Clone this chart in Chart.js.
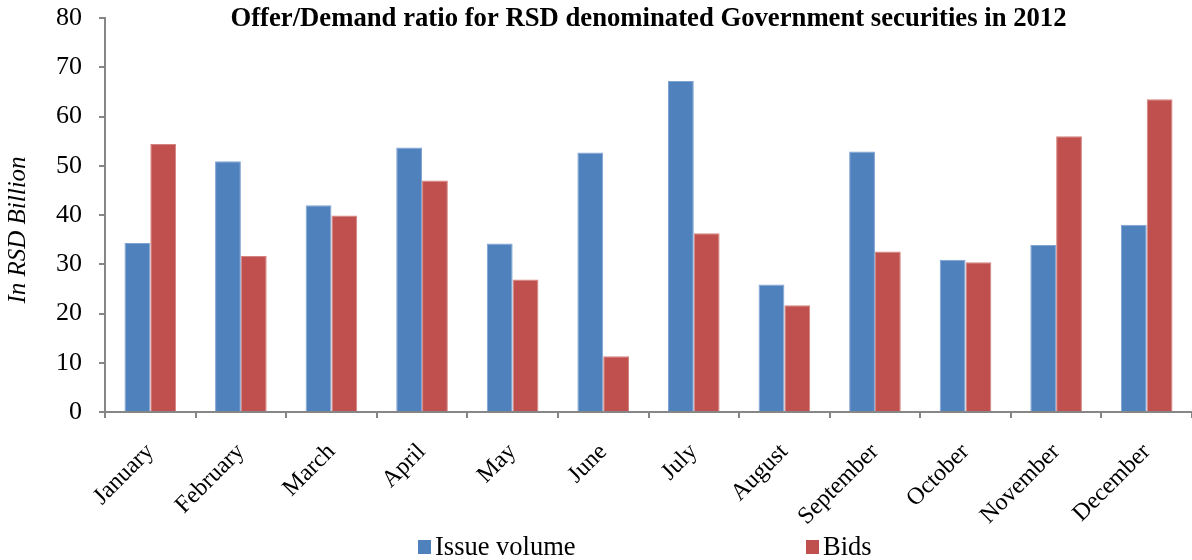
<!DOCTYPE html>
<html>
<head>
<meta charset="utf-8">
<script src="https://cdn.jsdelivr.net/npm/chart.js@4/dist/chart.umd.min.js"></script>
<style>
  html, body { margin: 0; padding: 0; background: #fff; }
  #wrap { width: 1192px; height: 560px; }
</style>
</head>
<body>
<div id="wrap"><canvas id="chart" width="1192" height="560"></canvas></div>
<script>
// dati
const mesi = ["January", "February", "March", "April", "May", "June", "July", "August", "September", "October", "November", "December"];
const issueVolume = [34.3, 50.9, 42.0, 53.7, 34.2, 52.7, 67.2, 25.9, 52.9, 30.9, 33.9, 38.0];
const bids = [54.4, 31.7, 39.9, 47.0, 26.9, 11.3, 36.3, 21.7, 32.6, 30.4, 56.0, 63.5];
const yTicks = [0, 10, 20, 30, 40, 50, 60, 70, 80];

const FONT = "'Liberation Serif', 'Times New Roman', serif";
const GRIGIO = '#868686';

// titolo, titolo asse y e legenda disegnati a mano
const titoloLegenda = {
  id: 'titoloLegenda',
  afterDraw(chart) {
    const ctx = chart.ctx;
    const area = chart.chartArea;
    ctx.save();
    ctx.fillStyle = '#000';
    ctx.font = "bold 26.7px " + FONT;
    ctx.textAlign = 'center';
    ctx.textBaseline = 'middle';
    ctx.fillText("Offer/Demand ratio for RSD denominated Government securities in 2012", (area.left + area.right) / 2, 19);

    // titolo asse y
    ctx.save();
    ctx.translate(18, 230);
    ctx.rotate(-Math.PI / 2);
    ctx.font = "italic 25px " + FONT;
    ctx.fillText("In RSD Billion", 0, 0);
    ctx.restore();

    // legenda
    const ds = chart.data.datasets;
    const posX = [418, 806];
    ctx.font = "26.5px " + FONT;
    ctx.textAlign = 'left';
    ds.forEach((d, i) => {
      ctx.fillStyle = d.backgroundColor;
      ctx.fillRect(posX[i], 540, 13, 14);
      ctx.fillStyle = '#000';
      ctx.fillText(d.label, posX[i] + 17, 548);
    });
    ctx.restore();
  }
};

new Chart(document.getElementById('chart').getContext('2d'), {
  type: 'bar',
  data: {
    labels: mesi,
    datasets: [{
      label: 'Issue volume',
      data: issueVolume,
      backgroundColor: '#4F81BD',
      borderColor: '#7FA3D2',
      borderWidth: 1
    }, {
      label: 'Bids',
      data: bids,
      backgroundColor: '#C0504D',
      borderColor: '#D5837F',
      borderWidth: 1
    }]
  },
  options: {
    responsive: false,
    animation: false,
    layout: { padding: { top: 18, left: 0, right: 0, bottom: 0 } },
    plugins: {
      legend: { display: false },
      title: { display: false },
      tooltip: { enabled: false }
    },
    datasets: { bar: { categoryPercentage: 0.57, barPercentage: 1 } },
    scales: {
      x: {
        grid: { display: true, offset: true, drawOnChartArea: false, drawTicks: true, tickLength: 6, color: GRIGIO, lineWidth: 2 },
        border: { display: true, color: GRIGIO, width: 2 },
        ticks: { color: '#000', font: { family: FONT, size: 24 }, minRotation: 45, maxRotation: 45, padding: 20 },
        afterFit(scale) {
          scale.height = 148;
          scale.paddingLeft = 0;
          scale.paddingRight = 0;
        }
      },
      y: {
        min: 0,
        max: 80,
        afterBuildTicks(scale) { scale.ticks = yTicks.map(v => ({ value: v })); },
        grid: { display: true, drawOnChartArea: false, drawTicks: true, tickLength: 6, color: GRIGIO, lineWidth: 2 },
        border: { display: true, color: GRIGIO, width: 2 },
        ticks: { color: '#000', font: { family: FONT, size: 26 }, padding: 17 },
        afterFit(scale) {
          scale.width = 105;
          scale.paddingTop = 0;
          scale.paddingBottom = 0;
        }
      }
    }
  },
  plugins: [titoloLegenda]
});
</script>
</body>
</html>
